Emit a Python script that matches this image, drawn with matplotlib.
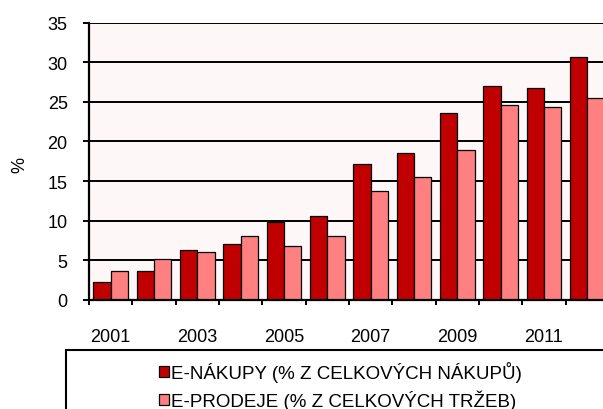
import matplotlib
matplotlib.use("Agg")
import matplotlib.pyplot as plt
import numpy as np
from matplotlib.patches import Rectangle

years = [str(y) for y in range(2001, 2013)]
e_nakupy = [2.3, 3.7, 6.3, 7.1, 9.8, 10.6, 17.2, 18.5, 23.6, 27.0, 26.8, 30.7]
e_prodeje = [3.6, 5.2, 6.1, 8.1, 6.8, 8.1, 13.8, 15.5, 18.9, 24.6, 24.3, 25.5]
label_nakupy = "E-NÁKUPY (% Z CELKOVÝCH NÁKUPŮ)"
label_prodeje = "E-PRODEJE (% Z CELKOVÝCH TRŽEB)"

plt.rcParams["font.family"] = ["Liberation Sans", "DejaVu Sans"]
FS = 13

W, H = 603, 410
fig = plt.figure(figsize=(W / 100, H / 100), dpi=100)
# plot area runs past the right edge of the picture, as in the original
ax = fig.add_axes([89 / W, 1 - 301 / H, 520 / W, (301 - 23.5) / H])
ax.set_facecolor("#FDF7F7")

x = np.arange(len(years))
width = 0.4
ax.bar(x - width / 2, e_nakupy, width, color="#C00000", edgecolor="black",
       linewidth=0.9, label=label_nakupy, zorder=3)
ax.bar(x + width / 2, e_prodeje, width, color="#FF8080", edgecolor="black",
       linewidth=0.9, label=label_prodeje, zorder=3)

ax.set_ylim(0, 35)
ax.set_xlim(-0.5, len(years) - 0.5)
ax.set_yticks(range(0, 36, 5))
ax.yaxis.grid(True, color="black", linewidth=1.4, zorder=1)
ax.tick_params(axis="y", length=4.3, width=1.4, labelsize=FS, pad=11)

# year labels every second group, boundary ticks between groups
ax.set_xticks(x[::2])
ax.set_xticklabels(years[::2])
ax.set_xticks(np.arange(-0.5, len(years), 1), minor=True)
ax.tick_params(axis="x", which="major", length=0, labelsize=FS, pad=20)
ax.tick_params(axis="x", which="minor", length=3.6, width=1.4)

for s in ["top", "right"]:
    ax.spines[s].set_visible(False)
for s in ["left", "bottom"]:
    ax.spines[s].set_linewidth(1.6)
    ax.spines[s].set_zorder(4)

fig.text(20 / W, 1 - 165 / H, "%", rotation=90, fontsize=FS,
         ha="center", va="center")

# legend box (clipped by the figure edges)
fig.patches.append(Rectangle((66 / W, -0.05), 1.0, (1 - 351 / H) + 0.05,
                             transform=fig.transFigure, facecolor="white",
                             edgecolor="black", linewidth=1.5, zorder=0))
handles, labels = ax.get_legend_handles_labels()
leg = fig.legend(handles, labels, loc="upper left",
                 bbox_to_anchor=(150 / W, 1 - 353 / H), frameon=False,
                 fontsize=13.5, handlelength=0.5, handleheight=0.5,
                 handletextpad=0.12, labelspacing=0.4, borderpad=0)

fig.savefig("out.png", dpi=100)
